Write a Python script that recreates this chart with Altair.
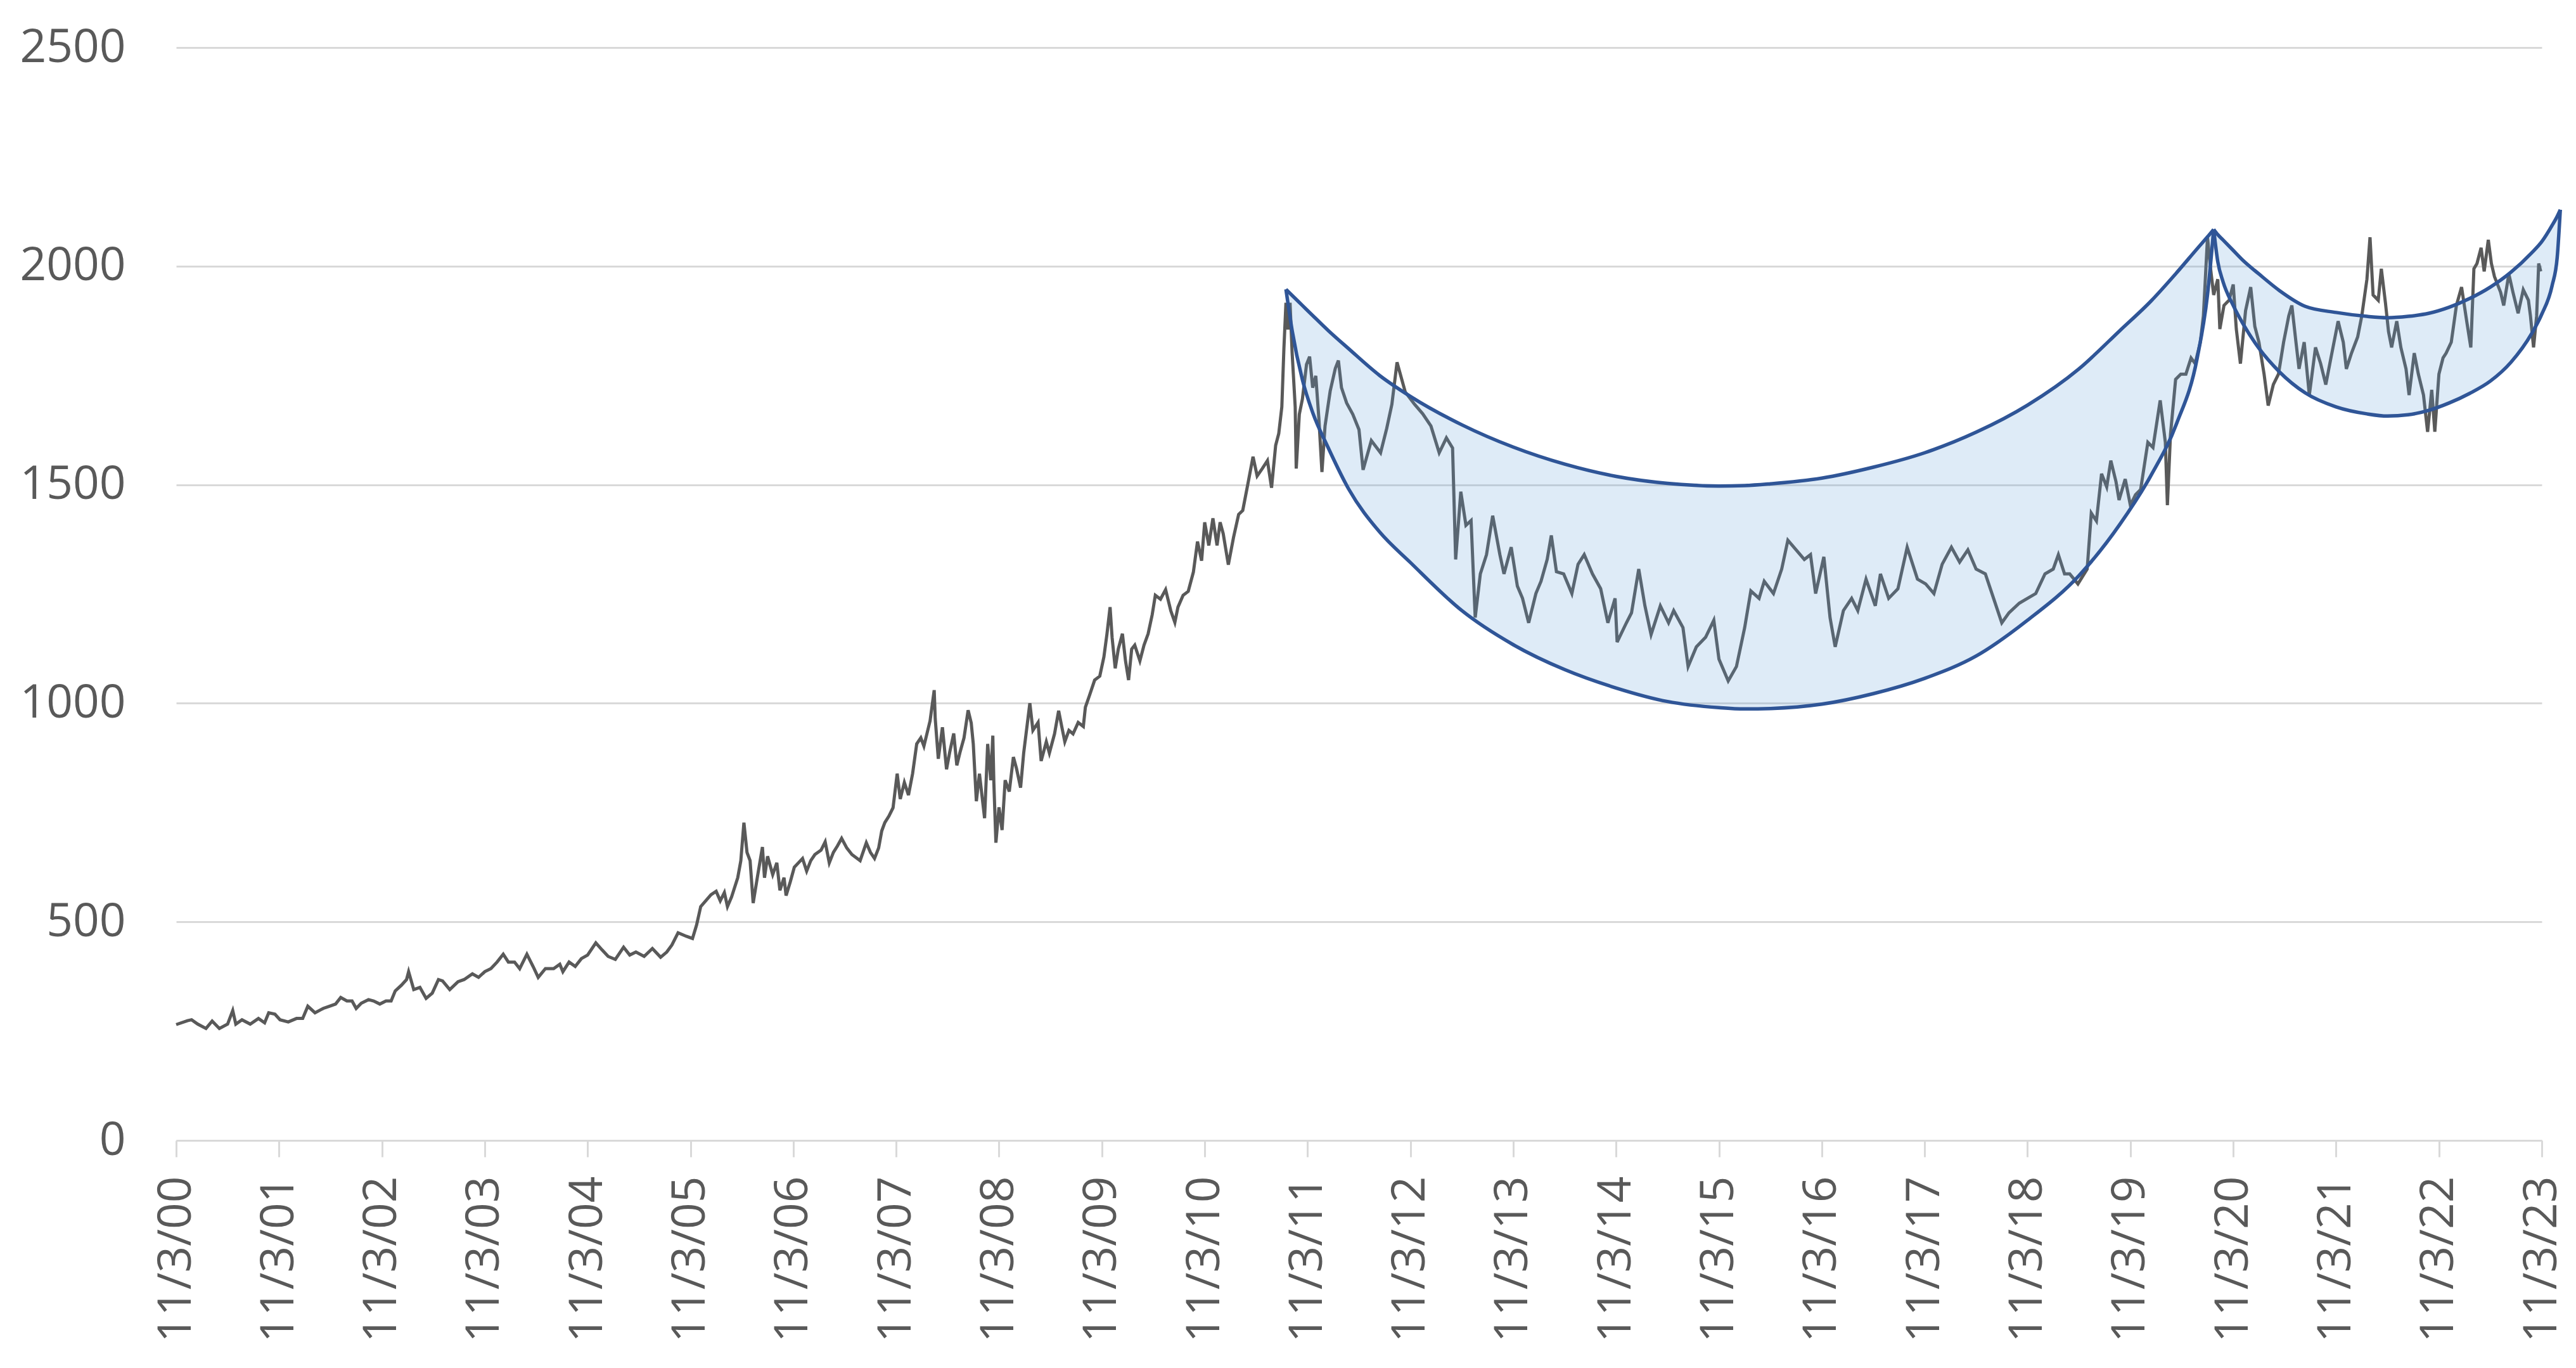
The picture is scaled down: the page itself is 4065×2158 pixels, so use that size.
import altair as alt
import pandas as pd

# ---- gold price series: t = years after 11/3/2000, v = price ----
price_t = [
    0.00, 0.11, 0.15, 0.21, 0.29, 0.35, 0.42, 0.50, 0.55, 0.58, 0.64, 0.72, 0.80, 0.86, 0.90, 0.96,
    1.01, 1.09, 1.17, 1.23, 1.28, 1.35, 1.43, 1.49, 1.55, 1.60, 1.66, 1.71, 1.75, 1.80, 1.87, 1.92, 1.98,
    2.04, 2.09, 2.13, 2.19, 2.24, 2.26, 2.31, 2.37, 2.43, 2.49, 2.55, 2.59, 2.66, 2.74, 2.80, 2.88, 2.94,
    3.00, 3.06, 3.12, 3.18, 3.23, 3.29, 3.34, 3.41, 3.47, 3.52, 3.59, 3.67, 3.73, 3.76, 3.82, 3.88, 3.94,
    4.00, 4.08, 4.14, 4.20, 4.27, 4.35, 4.41, 4.47, 4.55, 4.63, 4.71, 4.77, 4.82, 4.88, 4.96,
    5.02, 5.06, 5.10, 5.20, 5.25, 5.29, 5.33, 5.36, 5.40, 5.46, 5.49, 5.52, 5.55, 5.58, 5.61, 5.65,
    5.70, 5.72, 5.75, 5.80, 5.84, 5.87, 5.91, 5.93, 5.97,
    6.01, 6.05, 6.09, 6.13, 6.17, 6.21, 6.27, 6.31, 6.35, 6.39, 6.43, 6.47, 6.52, 6.57, 6.65, 6.71,
    6.75, 6.79, 6.83, 6.86, 6.89, 6.93, 6.97,
    7.01, 7.04, 7.08, 7.12, 7.16, 7.20, 7.24, 7.27, 7.33, 7.37, 7.38, 7.41, 7.45, 7.49, 7.52, 7.56,
    7.59, 7.62, 7.66, 7.70, 7.73, 7.75, 7.78, 7.81, 7.86, 7.89, 7.92, 7.94, 7.95, 7.97,
    8.00, 8.03, 8.06, 8.10, 8.14, 8.17, 8.21, 8.24, 8.30, 8.33, 8.38, 8.41, 8.46, 8.49, 8.54, 8.58,
    8.61, 8.64, 8.68, 8.72, 8.77, 8.82, 8.84, 8.88, 8.93, 8.98,
    9.02, 9.05, 9.08, 9.10, 9.13, 9.16, 9.20, 9.23, 9.26, 9.29, 9.32, 9.37, 9.41, 9.45, 9.49, 9.52,
    9.57, 9.62, 9.67, 9.71, 9.74, 9.79, 9.84, 9.89, 9.93, 9.97,
    10.00, 10.04, 10.08, 10.12, 10.15, 10.18, 10.23, 10.28, 10.33, 10.37, 10.42, 10.47, 10.51, 10.56,
    10.61, 10.65, 10.69, 10.72, 10.75, 10.77, 10.79, 10.81, 10.83, 10.85, 10.88, 10.89, 10.92, 10.95, 10.99,
    11.02, 11.05, 11.08, 11.11, 11.14, 11.17, 11.22, 11.27, 11.30, 11.33, 11.38, 11.44, 11.50, 11.54,
    11.62, 11.71, 11.77, 11.82, 11.87, 11.95,
    12.04, 12.12, 12.20, 12.28, 12.35, 12.41, 12.44, 12.49, 12.54, 12.59, 12.63, 12.68, 12.74, 12.80,
    12.87, 12.91, 12.98,
    13.04, 13.09, 13.15, 13.22, 13.27, 13.33, 13.37, 13.42, 13.49, 13.57, 13.63, 13.69, 13.77, 13.85,
    13.92, 13.99,
    14.01, 14.10, 14.15, 14.22, 14.28, 14.34, 14.43, 14.51, 14.56, 14.65, 14.70, 14.78, 14.87, 14.95,
    15.00, 15.09, 15.17, 15.25, 15.31, 15.39, 15.44, 15.53, 15.61, 15.67, 15.75, 15.83, 15.89, 15.94,
    16.02, 16.08, 16.13, 16.21, 16.29, 16.35, 16.43, 16.52, 16.57, 16.65, 16.74, 16.83, 16.93,
    17.01, 17.09, 17.17, 17.26, 17.34, 17.42, 17.50, 17.59, 17.67, 17.75, 17.82, 17.92,
    18.00, 18.08, 18.17, 18.25, 18.30, 18.36, 18.41, 18.49, 18.58, 18.62, 18.67, 18.72, 18.77, 18.81,
    18.86, 18.89, 18.95,
    19.00, 19.05, 19.10, 19.17, 19.22, 19.29, 19.34, 19.36, 19.39, 19.44, 19.49, 19.54, 19.59, 19.63,
    19.68, 19.71, 19.73, 19.75, 19.78, 19.81, 19.85, 19.87, 19.91, 19.96,
    20.00, 20.03, 20.07, 20.12, 20.17, 20.21, 20.25, 20.30, 20.34, 20.39, 20.44, 20.49, 20.54, 20.57,
    20.61, 20.64, 20.69, 20.74, 20.80, 20.85, 20.90, 20.95,
    21.02, 21.07, 21.10, 21.15, 21.21, 21.25, 21.30, 21.33, 21.36, 21.41, 21.44, 21.48, 21.51, 21.54,
    21.59, 21.63, 21.68, 21.71, 21.76, 21.80, 21.85, 21.89, 21.93, 21.96,
    22.00, 22.04, 22.07, 22.12, 22.17, 22.22, 22.27, 22.31, 22.34, 22.37, 22.41, 22.44, 22.48, 22.51,
    22.54, 22.60, 22.63, 22.68, 22.72, 22.77, 22.82, 22.87, 22.89, 22.92, 22.95, 22.97, 22.99,
]
price_v = [
    265, 274, 276, 266, 256, 273, 256, 266, 297, 266, 276, 266, 279, 269, 292, 289,
    276, 271, 279, 279, 307, 292, 302, 307, 312, 327, 319, 319, 302, 314, 322, 319, 312,
    319, 319, 342, 355, 368, 386, 345, 350, 325, 337, 368, 365, 345, 363, 368, 381, 373,
    386, 393, 408, 426, 408, 408, 393, 426, 398, 373, 393, 393, 403, 386, 408, 398, 416,
    424, 452, 436, 421, 414, 442, 424, 431, 421, 439, 419, 431, 447, 475, 467,
    462, 493, 535, 562, 570, 548, 567, 535, 557, 601, 640, 727, 659, 640, 543, 601,
    671, 601, 650, 608, 635, 572, 601, 560, 591,
    625, 635, 645, 616, 640, 654, 664, 683, 635, 659, 674, 691, 669, 654, 640, 681,
    659, 645, 669, 708, 727, 742, 761,
    839, 781, 819, 790, 839, 907, 921, 902, 960, 1030, 965, 873, 945, 849, 887, 931,
    858, 887, 921, 984, 955, 907, 776, 839, 737, 907, 824, 926, 819, 681,
    762, 710, 824, 798, 877, 851, 807, 886, 1000, 938, 956, 868, 912, 886, 930, 983,
    947, 912, 938, 930, 956, 947, 991, 1018, 1053, 1062,
    1106, 1159, 1220, 1150, 1080, 1124, 1159, 1097, 1053, 1124, 1133, 1097, 1133, 1159, 1203, 1247,
    1238, 1260, 1212, 1185, 1220, 1247, 1256, 1300, 1370, 1326,
    1414, 1361, 1423, 1361, 1414, 1388, 1317, 1379, 1432, 1441, 1502, 1564, 1520, 1537,
    1555, 1493, 1590, 1617, 1678, 1811, 1916, 1855, 1916, 1802, 1678, 1537, 1661, 1696, 1775,
    1793, 1722, 1749, 1652, 1529, 1634, 1714, 1766, 1784, 1722, 1687, 1661, 1626, 1534,
    1601, 1573, 1629, 1684, 1780, 1712,
    1684, 1662, 1634, 1573, 1607, 1584, 1329, 1484, 1407, 1418, 1196, 1296, 1340, 1429,
    1340, 1296, 1357,
    1268, 1240, 1184, 1251, 1279, 1329, 1384, 1301, 1296, 1251, 1318, 1340, 1296, 1262,
    1184, 1240,
    1140, 1184, 1207, 1307, 1223, 1157, 1223, 1184, 1212, 1173, 1084, 1129, 1151, 1190,
    1101, 1051, 1084, 1173, 1257, 1240, 1279, 1251, 1307, 1373, 1351, 1329, 1340, 1251,
    1335, 1196, 1129, 1212, 1240, 1212, 1284, 1223, 1296, 1240, 1262, 1357, 1284,
    1273, 1251, 1318, 1357, 1323, 1351, 1307, 1296, 1240, 1184, 1207, 1229,
    1240, 1251, 1296, 1307, 1340, 1296, 1296, 1273, 1307, 1435, 1417, 1525, 1495, 1555,
    1507, 1465, 1513,
    1453, 1477, 1489, 1597, 1585, 1693, 1597, 1453, 1615, 1741, 1753, 1753, 1790, 1777,
    1826, 1886, 1976, 2066, 1994, 1934, 1970, 1856, 1910, 1922,
    1958, 1856, 1777, 1898, 1952, 1862, 1826, 1753, 1681, 1729, 1753, 1826, 1886, 1910,
    1826, 1765, 1826, 1705, 1814, 1777, 1729, 1790,
    1874, 1826, 1765, 1801, 1838, 1886, 1970, 2066, 1934, 1922, 1994, 1916, 1850, 1814,
    1874, 1814, 1765, 1705, 1801, 1753, 1705, 1621, 1717, 1621,
    1753, 1790, 1801, 1826, 1910, 1952, 1874, 1814, 1994, 2006, 2042, 1988, 2060, 2006,
    1976, 1940, 1910, 1982, 1940, 1892, 1946, 1922, 1886, 1814, 1886, 2006, 1988,
]

# ---- "cup" outline (years after 11/3/2000) ----
cup_t = [10.79, 10.85, 10.95, 11.05, 11.2, 11.4, 11.7, 12.0, 12.5, 13.0, 13.5, 14.0, 14.5, 15.0,
         15.25, 15.5, 16.0, 16.5, 17.0, 17.5, 18.0, 18.5, 18.9, 19.2, 19.45, 19.65, 19.75, 19.81]
cup_upper = [1947, 1933, 1910, 1887, 1853, 1811, 1750, 1702, 1637, 1586, 1547, 1519, 1503, 1497,
             1498, 1502, 1515, 1540, 1573, 1620, 1682, 1765, 1853, 1920, 1985, 2040, 2067, 2084]
cup_lower = [1947, 1853, 1740, 1665, 1585, 1490, 1392, 1322, 1212, 1134, 1077, 1035, 1004, 990,
             987, 988, 998, 1022, 1057, 1108, 1190, 1292, 1410, 1521, 1640, 1790, 1935, 2084]

# ---- "handle" outline ----
handle_t = [19.81, 19.85, 19.9, 20.0, 20.1, 20.25, 20.45, 20.7, 21.0, 21.3, 21.5, 21.7, 21.9, 22.1,
            22.3, 22.5, 22.7, 22.9, 23.0, 23.1, 23.15, 23.18]
handle_upper = [2084, 2072, 2060, 2036, 2012, 1982, 1944, 1908, 1894, 1885, 1882, 1885, 1892, 1906,
                1926, 1952, 1986, 2030, 2056, 2093, 2114, 2129]
handle_lower = [2084, 2010, 1965, 1910, 1866, 1812, 1758, 1710, 1678, 1662, 1657, 1660, 1670, 1687,
                1709, 1737, 1780, 1845, 1890, 1955, 2020, 2129]

x_ticks = list(range(0, 24))
y_ticks = [0, 500, 1000, 1500, 2000, 2500]

FONT = "Open Sans"
LABEL = "#595959"
GRID = "#D9D9D9"

price_df = pd.DataFrame({"t": price_t, "v": price_v})
shape_df = pd.DataFrame({
    "t": cup_t + handle_t,
    "lo": cup_lower + handle_lower,
    "hi": cup_upper + handle_upper,
    "shape": ["cup"] * len(cup_t) + ["handle"] * len(handle_t),
})

x_scale = alt.Scale(domain=[0, 23], nice=False, zero=False)
y_scale = alt.Scale(domain=[0, 2500], nice=False)

x_axis = alt.Axis(
    values=x_ticks,
    labelExpr="'11/3/' + (datum.value < 10 ? '0' : '') + datum.value",
    labelAngle=270, labelAlign="right", labelBaseline="middle",
    labelFont=FONT, labelFontSize=73, labelColor=LABEL, labelPadding=30,
    labelOverlap=False, labelFlush=False, labelLimit=0,
    tickSize=26, tickColor=GRID, tickWidth=3,
    domainColor=GRID, domainWidth=3, grid=False, title=None,
)
y_axis = alt.Axis(
    values=y_ticks, format="d", grid=True, gridColor=GRID, gridWidth=3,
    domain=False, ticks=False, labelPadding=80, labelLimit=0,
    labelFont=FONT, labelFontSize=73, labelColor=LABEL, title=None,
)

price = alt.Chart(price_df).mark_line(color="#595959", strokeWidth=5).encode(
    x=alt.X("t:Q", scale=x_scale, axis=x_axis),
    y=alt.Y("v:Q", scale=y_scale, axis=y_axis),
)

fill = alt.Chart(shape_df).mark_area(
    color="#5B9BD5", opacity=0.2, interpolate="monotone"
).encode(
    x=alt.X("t:Q", scale=x_scale),
    y=alt.Y("lo:Q", scale=y_scale),
    y2="hi:Q",
    detail="shape:N",
)

upper = alt.Chart(shape_df).mark_line(
    color="#2F5597", strokeWidth=5.5, interpolate="monotone"
).encode(
    x=alt.X("t:Q", scale=x_scale),
    y=alt.Y("hi:Q", scale=y_scale),
    detail="shape:N",
)

lower = alt.Chart(shape_df).mark_line(
    color="#2F5597", strokeWidth=5.5, interpolate="monotone"
).encode(
    x=alt.X("t:Q", scale=x_scale),
    y=alt.Y("lo:Q", scale=y_scale),
    detail="shape:N",
)

chart = alt.layer(price, fill, upper, lower).properties(
    width=3733,
    height=1724,
    autosize=alt.AutoSizeParams(type="none"),
    padding={"left": 270, "top": 67, "right": 44, "bottom": 330},
    background="white",
).configure_view(stroke=None)

chart.save("out.html", embed_options={"renderer": "svg", "actions": False})
